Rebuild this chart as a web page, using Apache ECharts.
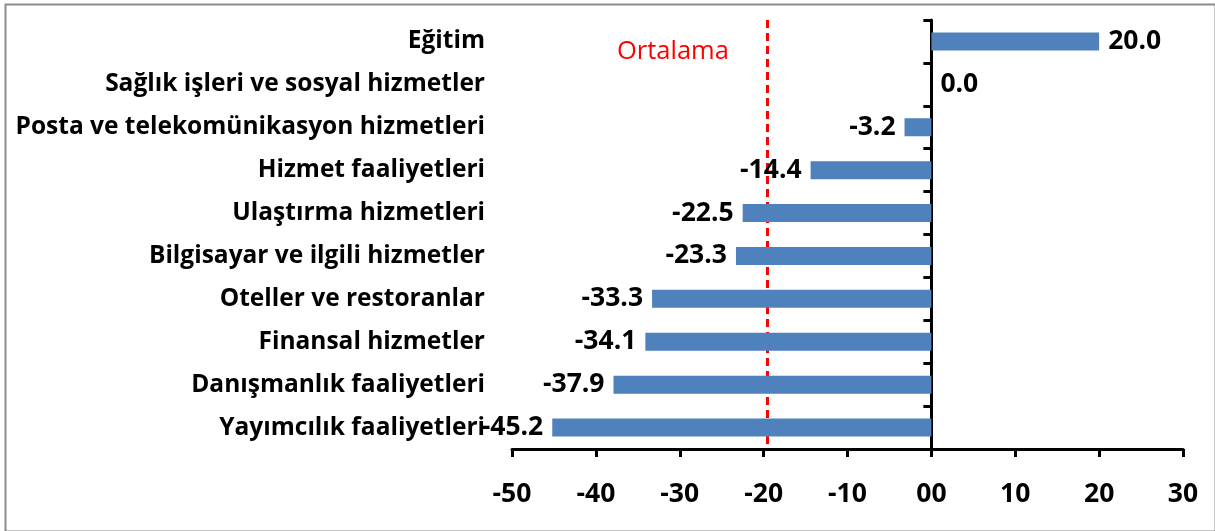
<!DOCTYPE html>
<html>
<head>
<meta charset="utf-8">
<script src="https://cdn.jsdelivr.net/npm/echarts@6/dist/echarts.min.js"></script>
<style>
html,body{margin:0;padding:0;background:#fff;}
#chart{width:1215px;height:531px;}
</style>
</head>
<body>
<div id="chart"></div>
<script>
const categories = [
  "Eğitim",
  "Sağlık işleri ve sosyal hizmetler",
  "Posta ve telekomünikasyon hizmetleri",
  "Hizmet faaliyetleri",
  "Ulaştırma hizmetleri",
  "Bilgisayar ve ilgili hizmetler",
  "Oteller ve restoranlar",
  "Finansal hizmetler",
  "Danışmanlık faaliyetleri",
  "Yayımcılık faaliyetleri"
];
const values = [20.0, 0.0, -3.2, -14.4, -22.5, -23.3, -33.3, -34.1, -37.9, -45.2];
const averageValue = -19.6;
const averageLabel = "Ortalama";
const xTicks = { min: -50, max: 30, interval: 10 };

const FONT = "'Open Sans'";
const chart = echarts.init(document.getElementById('chart'), null, { renderer: 'canvas' });

const barData = values.map(v => ({
  value: v,
  label: { position: v < 0 ? 'left' : 'right' }
}));

chart.setOption({
  animation: false,
  backgroundColor: '#ffffff',
  grid: { left: 512, right: 32, top: 20, bottom: 82, containLabel: false, outerBoundsMode: 'none' },
  xAxis: {
    type: 'value',
    min: xTicks.min, max: xTicks.max, interval: xTicks.interval,
    axisLine: { show: true, onZero: false, lineStyle: { color: '#000', width: 3 } },
    axisTick: { show: true, length: 8, lineStyle: { color: '#000', width: 3 } },
    splitLine: { show: false },
    axisLabel: {
      margin: 32,
      fontFamily: FONT, fontWeight: 'bold', fontSize: 26.5, color: '#000',
      formatter: v => (v === 0 ? '00' : String(v))
    }
  },
  yAxis: [
    {
      type: 'category', data: categories, inverse: true, position: 'left',
      axisLine: { show: false, onZero: false },
      axisTick: { show: false },
      axisLabel: {
        margin: 27,
        fontFamily: FONT, fontWeight: 'bold', fontSize: 24.5, color: '#000'
      }
    },
    {
      type: 'category', data: categories, inverse: true, position: 'left',
      axisLine: { show: true, onZero: true, lineStyle: { color: '#000', width: 3 } },
      axisTick: { show: true, length: 8, lineStyle: { color: '#000', width: 3 } },
      axisLabel: { show: false }
    }
  ],
  series: [{
    type: 'bar',
    yAxisIndex: 0,
    data: barData,
    barWidth: 18,
    itemStyle: { color: '#4F81BD' },
    label: {
      show: true, distance: 9,
      fontFamily: FONT, fontWeight: 'bold', fontSize: 26.5, color: '#000',
      formatter: p => p.value.toFixed(1)
    },
    markLine: {
      silent: true, symbol: 'none', z: 1,
      label: { show: false },
      lineStyle: { color: '#ff0000', type: [8, 5], width: 3 },
      data: [{ xAxis: averageValue }]
    },
    z: 2
  }],
  graphic: [
    {
      type: 'rect', left: 3, top: 2, z: -1,
      shape: { width: 1210, height: 527 },
      style: { fill: 'none', stroke: '#8c8c8c', lineWidth: 2 }
    },
    {
      type: 'text', x: 617, y: 52,
      style: { text: averageLabel, fill: '#ff0000', font: '25.5px ' + FONT, verticalAlign: 'middle' }
    }
  ]
});
</script>
</body>
</html>
